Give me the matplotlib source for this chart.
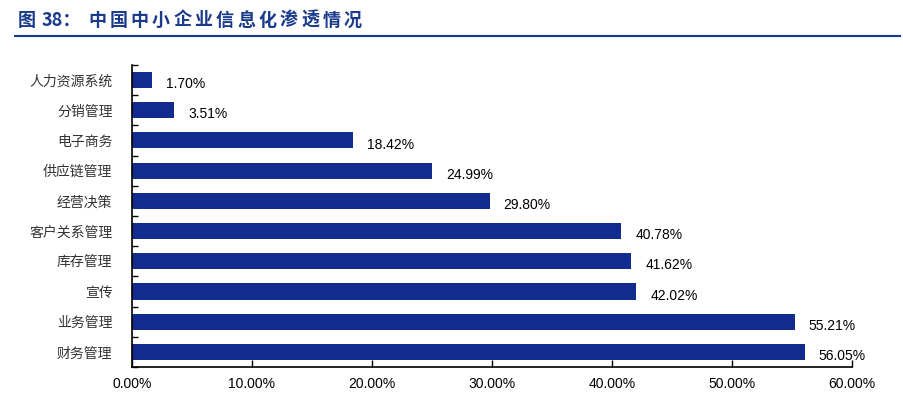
import matplotlib.pyplot as plt
import numpy as np

plt.rcParams['font.family'] = ['Noto Sans CJK SC', 'DejaVu Sans']

# 数据
categories = ['人力资源系统', '分销管理', '电子商务', '供应链管理', '经营决策',
              '客户关系管理', '库存管理', '宣传', '业务管理', '财务管理']
values = [1.70, 3.51, 18.42, 24.99, 29.80, 40.78, 41.62, 42.02, 55.21, 56.05]
xticks = [0, 10, 20, 30, 40, 50, 60]
title_prefix = '图 38：'
title_main = '中国中小企业信息化渗透情况'

bar_color = '#112B8F'
title_color = '#1A3A8A'

W, H = 904, 393
fig = plt.figure(figsize=(W / 100, H / 100), dpi=100)
ax = fig.add_axes([0.146, 0.066, 0.7965, 0.769])

y = np.arange(len(categories))
ax.barh(y, values, height=0.53, color=bar_color)
ax.set_ylim(len(categories) - 0.5, -0.5)
ax.set_xlim(0, 60)

for yi, v in zip(y, values):
    ax.annotate(f'{v:.2f}%', xy=(v, yi), xytext=(10, -3), textcoords='offset points',
                va='center', ha='left', fontsize=10, family='Liberation Sans')

ax.set_yticks(y)
ax.set_yticklabels(categories, fontsize=10, color='#333333')
ax.set_yticks(np.arange(len(categories) + 1) - 0.5, minor=True)
ax.tick_params(axis='y', which='major', length=0, pad=14)
ax.tick_params(axis='y', which='minor', direction='in', length=4, width=1)

ax.set_xticks(xticks)
ax.set_xticklabels([f'{t:.2f}%' for t in xticks], fontsize=10, family='Liberation Sans')
ax.tick_params(axis='x', direction='in', length=5, width=1, pad=7)

for s in ['top', 'right']:
    ax.spines[s].set_visible(False)
for s in ['left', 'bottom']:
    ax.spines[s].set_linewidth(1.2)

# 标题（字间距较宽）和下划线
ty = 1 - 20 / H
fig.text(18 / W, ty, '图', fontsize=13, fontweight='bold', color=title_color, va='center')
fig.text(42 / W, ty, '38：', fontsize=13, fontweight='bold', color=title_color, va='center')
for i, ch in enumerate(title_main):
    fig.text((88 + 21.3 * i) / W, ty, ch, fontsize=13, fontweight='bold',
             color=title_color, va='center')
fig.add_artist(plt.Line2D([15 / W, 900 / W], [1 - 36 / H, 1 - 36 / H],
                          color=title_color, linewidth=1.5))

fig.savefig('out.png', dpi=100)
